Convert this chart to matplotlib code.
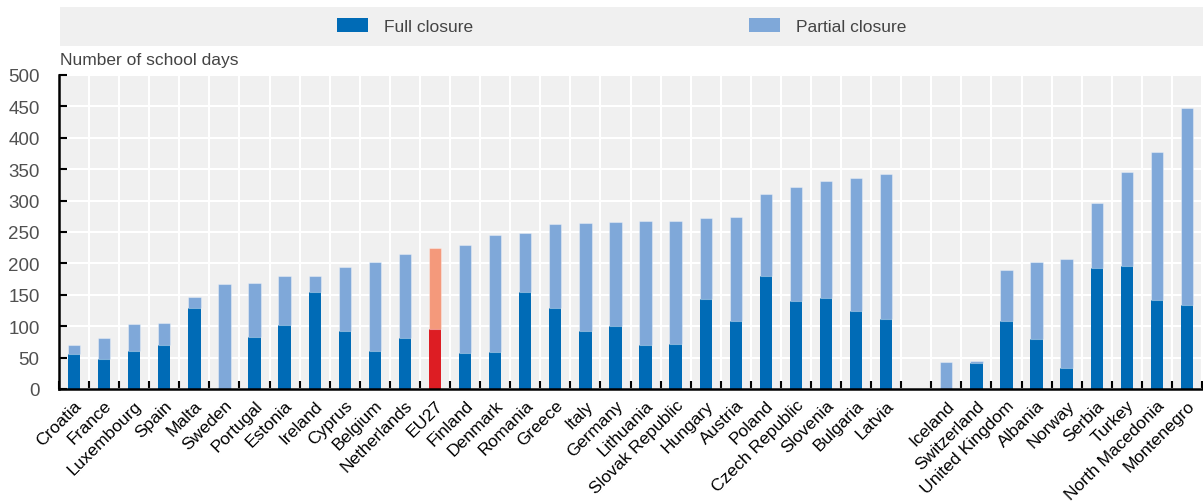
import matplotlib
matplotlib.use("Agg")
import matplotlib.pyplot as plt
from matplotlib import font_manager
import numpy as np
from matplotlib.patches import Patch

# ---- data ----
eu_countries = ["Croatia", "France", "Luxembourg", "Spain", "Malta", "Sweden", "Portugal",
                "Estonia", "Ireland", "Cyprus", "Belgium", "Netherlands", "EU27", "Finland",
                "Denmark", "Romania", "Greece", "Italy", "Germany", "Lithuania",
                "Slovak Republic", "Hungary", "Austria", "Poland", "Czech Republic",
                "Slovenia", "Bulgaria", "Latvia"]
eu_full = [56, 48, 61, 70, 129, 0, 83, 102, 154, 92, 61, 81, 96, 57, 59, 154, 129, 93,
           100, 70, 71, 143, 108, 180, 140, 145, 124, 112]
eu_total = [70, 82, 103, 105, 146, 167, 169, 180, 180, 194, 203, 215, 224, 230, 245, 249,
            263, 264, 266, 268, 268, 273, 274, 311, 321, 332, 336, 342]

other_countries = ["Iceland", "Switzerland", "United Kingdom", "Albania", "Norway", "Serbia",
                   "Turkey", "North Macedonia", "Montenegro"]
other_full = [0, 41, 109, 79, 34, 193, 196, 142, 133]
other_total = [43, 45, 190, 202, 207, 296, 346, 378, 448]

highlight = "EU27"
legend_labels = ["Full closure", "Partial closure"]
y_title = "Number of school days"

# ---- style ----
C_FULL = "#006BB6"
C_PART = "#7FA8D9"
C_FULL_HL = "#DD1D23"
C_PART_HL = "#F4997B"
BG = "#F0F0F0"

names = {f.name for f in font_manager.fontManager.ttflist}
narrow_ok = "Liberation Sans Narrow" in names
REG = ["Liberation Sans", "DejaVu Sans"]
NARROW = (["Liberation Sans Narrow", "DejaVu Sans"] if narrow_ok else REG)
sz_title = 15 if narrow_ok else 12.5
sz_ytick = 15 if narrow_ok else 13.5

W, H = 1203, 502
fig = plt.figure(figsize=(W / 100, H / 100), dpi=100)

# assemble positions with one blank slot between the groups
labels = eu_countries + [""] + other_countries
full = eu_full + [np.nan] + other_full
total = eu_total + [np.nan] + other_total
x = np.arange(len(labels))
full = np.array(full, dtype=float)
partial = np.array(total, dtype=float) - full

is_hl = np.array([lab == highlight for lab in labels])
fc_full = [C_FULL_HL if h else C_FULL for h in is_hl]
fc_part = [C_PART_HL if h else C_PART for h in is_hl]

ax = fig.add_axes([59 / W, 1 - 390 / H, (1202 - 59) / W, (390 - 76) / H])
ax.set_facecolor(BG)
ax.bar(x, full, width=0.41, color=fc_full, zorder=3, linewidth=0)
ax.bar(x, partial, bottom=full, width=0.41, color=fc_part, zorder=3,
       edgecolor=(1, 1, 1, 0.35), linewidth=0.8)

ax.set_xlim(-0.5, len(labels) - 0.5)
ax.set_ylim(0, 500)
ax.set_yticks(np.arange(0, 501, 50))
ax.set_xticks(x)
ax.set_xticks(np.arange(-0.5, len(labels), 1.0), minor=True)
ax.set_xticklabels(labels, rotation=45, ha="right", rotation_mode="anchor",
                   fontfamily=REG, fontsize=12.6, color="black")
ax.tick_params(axis="x", which="major", length=0, pad=6)
ax.tick_params(axis="x", which="minor", direction="in", length=6, width=1.5, color="black")
ax.tick_params(axis="y", direction="in", length=6, width=1.5, color="black", pad=14,
               labelsize=sz_ytick, labelcolor="#505050")
for t in ax.get_yticklabels():
    t.set_fontfamily(NARROW)

ax.grid(True, axis="y", color="white", linewidth=1.5, zorder=1)
ax.grid(True, axis="x", which="minor", color="white", linewidth=1.5, zorder=1)
ax.grid(False, axis="x", which="major")
ax.set_axisbelow(True)
for s in ["top", "right"]:
    ax.spines[s].set_visible(False)
for s in ["left", "bottom"]:
    ax.spines[s].set_linewidth(1.8)
    ax.spines[s].set_color("black")
    ax.spines[s].set_zorder(4)

fig.text(60 / W, 1 - 61 / H, y_title, fontfamily=NARROW, fontsize=sz_title, color="#444444",
         va="center", ha="left")

# legend band
lax = fig.add_axes([60 / W, 1 - 47 / H, (W - 60) / W, 39 / H])
lax.set_facecolor(BG)
lax.set_xticks([])
lax.set_yticks([])
for s in lax.spines.values():
    s.set_visible(False)
em = sz_title * 100 / 72
handles = [Patch(facecolor=C_FULL), Patch(facecolor=C_PART)]
fig.legend(handles, legend_labels, loc="center left", bbox_to_anchor=(337 / W, 1 - 27 / H),
           ncol=2, frameon=False, borderpad=0, borderaxespad=0,
           handlelength=31 / em, handleheight=15 / em, handletextpad=16 / em,
           columnspacing=276 / em,
           prop={"family": NARROW, "size": sz_title}, labelcolor="#444444")

fig.savefig("out.png", dpi=100)
